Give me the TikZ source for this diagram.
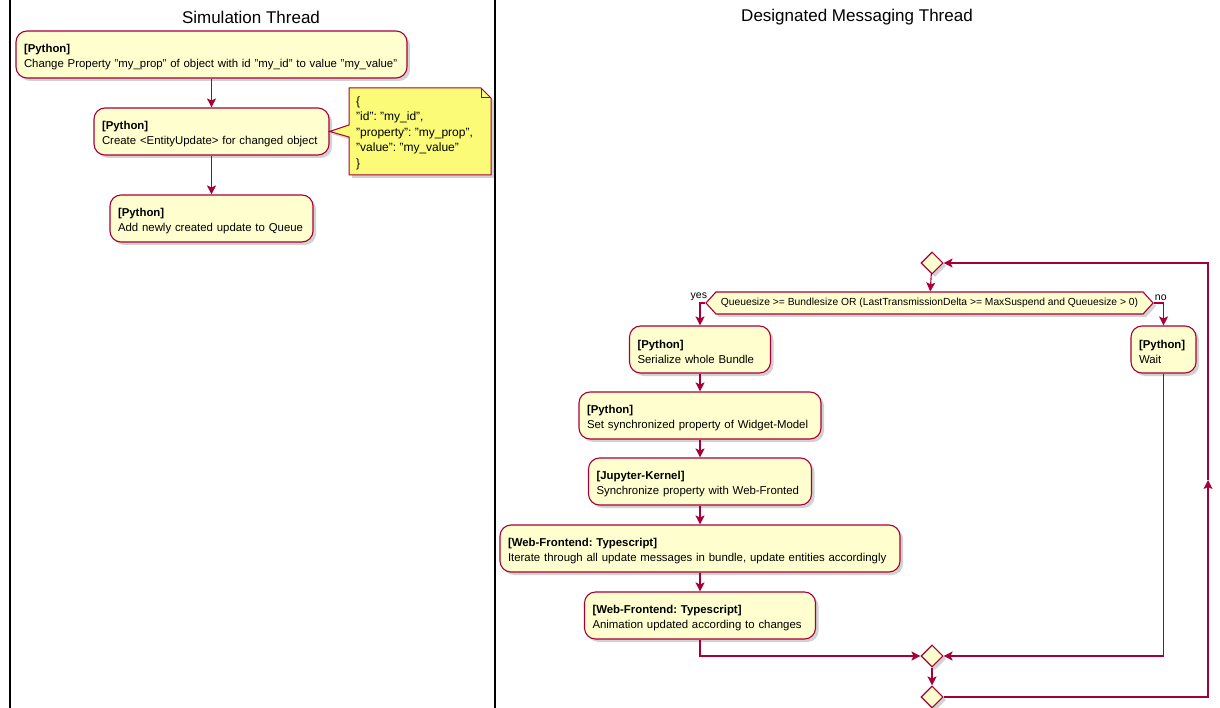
\documentclass[tikz,border=0pt]{standalone}
\usepackage{fontspec}
\setmainfont{Liberation Sans}
\usetikzlibrary{shapes.geometric,shapes.symbols,arrows.meta,shadows,calc}
\definecolor{umlred}{HTML}{A80036}
\definecolor{actfill}{HTML}{FEFECE}
\definecolor{notefill}{HTML}{FBFB77}
\frenchspacing
% bold heading line of an activity, with a little extra room above it
\newcommand{\acthead}[1]{\rule{0pt}{13pt}\textbf{#1}}
\begin{document}
\begin{tikzpicture}[x=1pt,y=-1pt,
  txt/.style={font=\fontsize{11.4}{15}\selectfont},
  shade/.style={drop shadow={shadow xshift=3pt,shadow yshift=-3pt,opacity=0.25,fill=black!70}},
  act/.style={txt,draw=umlred,fill=actfill,line width=1.1pt,rounded corners=11pt,
    align=left,inner xsep=8pt,inner ysep=0pt,minimum height=47pt,shade},
  diam/.style={diamond,draw=umlred,fill=actfill,line width=1.1pt,minimum width=22pt,
    minimum height=22pt,inner sep=0pt,shape aspect=1,shade},
  cond/.style={font=\fontsize{10.3}{12}\selectfont,signal,signal to=east and west,signal pointer angle=96,draw=umlred,
    fill=actfill,line width=1.1pt,minimum height=22pt,inner sep=1pt,shade},
  flow/.style={draw=umlred,line width=1.1pt,-{Stealth[length=9pt,width=9pt,inset=2pt]}},
  lbl/.style={font=\fontsize{10.5}{12}\selectfont,inner sep=1pt},
  title/.style={font=\fontsize{17}{20}\selectfont}]
\useasboundingbox (0,0) rectangle (1220,708);

% swimlane borders and titles
\draw[line width=1.6pt] (10,0) -- (10,708);
\draw[line width=1.6pt] (495,0) -- (495,708);
\node[title] (lane1) at (251,17) {Simulation Thread};
\node[title] (lane2) at (857,17) {Designated Messaging Thread};

% simulation thread
\node[act,text width=375pt] (change) at (211.5,54.5)
  {\acthead{[Python]}\\Change Property "my\_prop" of object with id "my\_id" to value "my\_value"};
\node[act,text width=219pt] (create) at (211.5,131.5)
  {\acthead{[Python]}\\Create <EntityUpdate> for changed object};
\node[act,text width=187pt] (enqueue) at (211.5,218.5)
  {\acthead{[Python]}\\Add newly created update to Queue};
\draw[flow] (change) -- (create);
\draw[flow] (create) -- (enqueue);

% note attached to the update creation
\path[draw=umlred,fill=notefill,line width=1pt,shade]
  (349,88) -- (481,88) -- (491,98) -- (491,175) -- (349,175) -- (349,137)
  -- (create.east) -- (349,125) -- cycle;
\draw[umlred,line width=1pt] (481,88) -- (481,98) -- (491,98);
\node[anchor=west,align=left,inner sep=3pt,font=\fontsize{12}{15.5}\selectfont] (payload) at (353,133)
  {\{\\"id": "my\_id",\\"property": "my\_prop",\\"value": "my\_value"\\\}};

% messaging thread
\node[diam] (loop) at (932,263) {};
\node[cond,minimum width=447pt] (check) at (929.5,303)
  {Queuesize >= Bundlesize OR (LastTransmissionDelta >= MaxSuspend and Queuesize > 0)};
\node[lbl,anchor=south east] (yes) at ($(check.west)+(3,-1)$) {yes};
\node[lbl,anchor=south west] (no) at ($(check.east)+(0,-1)$) {no};

\node[act,text width=125pt] (serialize) at (700,349.5)
  {\acthead{[Python]}\\Serialize whole Bundle};
\node[act,text width=226pt] (widget) at (700,415.5)
  {\acthead{[Python]}\\Set synchronized property of Widget-Model};
\node[act,text width=207pt] (kernel) at (700,481.5)
  {\acthead{[Jupyter-Kernel]}\\Synchronize property with Web-Fronted};
\node[act,text width=384pt] (iterate) at (700,548.5)
  {\acthead{[Web-Frontend: Typescript]}\\Iterate through all update messages in bundle, update entities accordingly};
\node[act,text width=215pt] (animate) at (700,615.5)
  {\acthead{[Web-Frontend: Typescript]}\\Animation updated according to changes};
\node[act,text width=49pt] (wait) at (1163.5,349.5)
  {\acthead{[Python]}\\Wait};

\node[diam] (merge) at (932,656) {};
\node[diam] (repeat) at (932,697) {};
\coordinate (back) at (1208,480);

\draw[flow] (loop) -- (check);
\draw[flow] (check.west) -| (serialize.north);
\draw[flow] (check.east) -| (wait.north);
\draw[flow] (serialize) -- (widget);
\draw[flow] (widget) -- (kernel);
\draw[flow] (kernel) -- (iterate);
\draw[flow] (iterate) -- (animate);
\draw[flow] (animate.south) |- (merge.west);
\draw[flow] (wait.south) |- (merge.east);
\draw[flow] (merge) -- (repeat);
\draw[flow] (repeat.east) -| (back);
\draw[flow] (back) |- (loop.east);
\end{tikzpicture}
\end{document}
